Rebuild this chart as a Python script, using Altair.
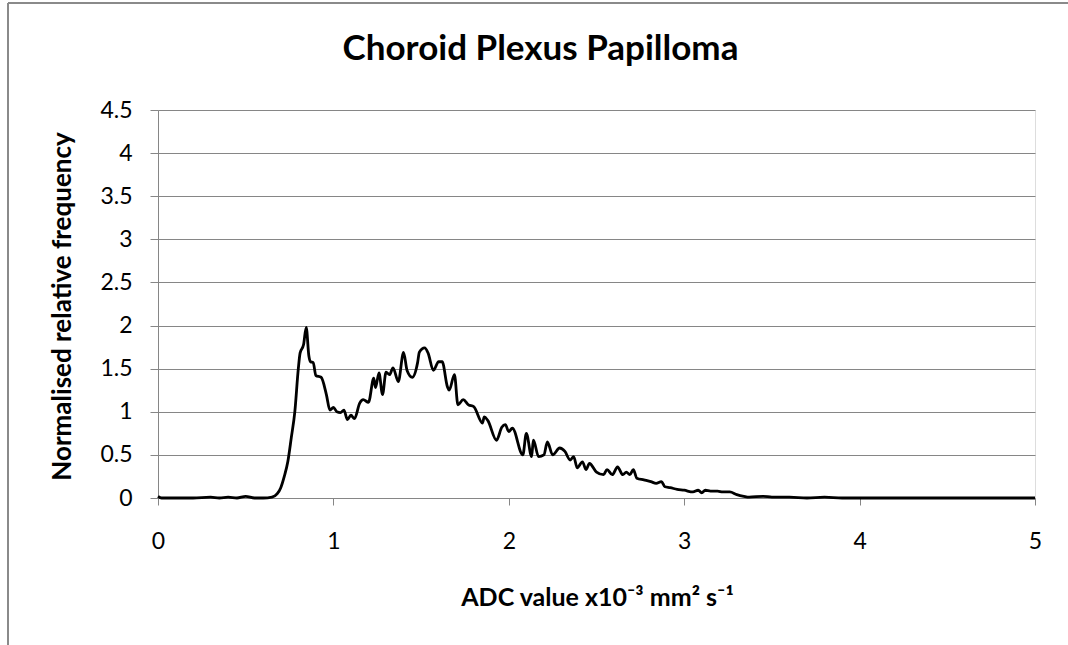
import altair as alt
import pandas as pd

adc = [0.0, 0.02, 0.1, 0.2, 0.3, 0.35, 0.4, 0.45, 0.5, 0.55, 0.6, 0.65, 0.68, 0.7, 0.72, 0.74, 0.76, 0.78,
       0.8, 0.81, 0.83, 0.845, 0.86, 0.87, 0.885, 0.9, 0.93, 0.96, 0.98, 1.0, 1.02, 1.04, 1.06, 1.08, 1.1,
       1.12, 1.15, 1.17, 1.2, 1.23, 1.24, 1.26, 1.28, 1.3, 1.32, 1.34, 1.37, 1.4, 1.42, 1.45, 1.48, 1.49,
       1.52, 1.54, 1.57, 1.6, 1.62, 1.65, 1.66, 1.69, 1.71, 1.74, 1.77, 1.8, 1.85, 1.86, 1.88, 1.93, 1.96,
       1.98, 2.0, 2.02, 2.08, 2.1, 2.13, 2.14, 2.17, 2.2, 2.22, 2.25, 2.29, 2.32, 2.35, 2.37, 2.39, 2.42,
       2.44, 2.46, 2.5, 2.54, 2.56, 2.59, 2.62, 2.65, 2.67, 2.69, 2.71, 2.73, 2.77, 2.81, 2.84, 2.87, 2.89,
       2.92, 2.96, 3.0, 3.05, 3.08, 3.1, 3.12, 3.15, 3.19, 3.22, 3.26, 3.3, 3.34, 3.37, 3.45, 3.5, 3.6, 3.7,
       3.8, 3.9, 4.0, 5.0]
freq = [0.02, 0.0, 0.0, 0.0, 0.01, 0.0, 0.01, 0.0, 0.02, 0.0, 0.0, 0.01, 0.05, 0.12, 0.25, 0.42, 0.7, 1.0,
        1.5, 1.68, 1.78, 1.98, 1.65, 1.58, 1.57, 1.42, 1.4, 1.2, 1.02, 1.05, 1.0, 0.99, 1.02, 0.91, 0.96,
        0.92, 1.1, 1.14, 1.11, 1.39, 1.28, 1.45, 1.2, 1.46, 1.43, 1.51, 1.35, 1.69, 1.48, 1.4, 1.57, 1.69,
        1.74, 1.68, 1.48, 1.58, 1.58, 1.29, 1.25, 1.43, 1.08, 1.14, 1.08, 1.06, 0.87, 0.94, 0.9, 0.67, 0.82,
        0.85, 0.77, 0.81, 0.5, 0.75, 0.48, 0.67, 0.48, 0.5, 0.65, 0.5, 0.58, 0.54, 0.44, 0.48, 0.35, 0.42,
        0.33, 0.4, 0.3, 0.27, 0.33, 0.27, 0.36, 0.27, 0.3, 0.27, 0.33, 0.23, 0.21, 0.19, 0.17, 0.19, 0.13,
        0.12, 0.1, 0.09, 0.07, 0.09, 0.06, 0.09, 0.08, 0.08, 0.07, 0.07, 0.04, 0.02, 0.01, 0.02, 0.01, 0.01, 0.0,
        0.01, 0.0, 0.0, 0.0]

y_ticks = [0, 0.5, 1, 1.5, 2, 2.5, 3, 3.5, 4, 4.5]
x_ticks = [0, 1, 2, 3, 4, 5]

df = pd.DataFrame({"adc": adc, "freq": freq})
FONT = "Lato"
GRID = "#868686"

line = alt.Chart(df).mark_line(color="black", strokeWidth=2.8, interpolate="monotone").encode(
    x=alt.X("adc:Q", scale=alt.Scale(domain=[0, 5], nice=False),
            axis=alt.Axis(values=x_ticks, format="d", grid=False, tickSize=7, tickColor=GRID,
                          domainColor=GRID, labelPadding=25, labelFontSize=23, labelFont=FONT,
                          labelColor="black", labelFlush=False, title="ADC value x10⁻³ mm² s⁻¹",
                          titleFont=FONT, titleFontSize=25, titleFontWeight="bold", titleColor="black",
                          titleX=439, titleY=99, titleBaseline="middle", titleAlign="center")),
    y=alt.Y("freq:Q", scale=alt.Scale(domain=[0, 4.5], nice=False),
            axis=alt.Axis(values=y_ticks, format="~g", grid=True, gridColor=GRID, gridWidth=1,
                          tickSize=8, tickColor=GRID, domainColor=GRID, labelPadding=18,
                          labelFontSize=23, labelFont=FONT, labelColor="black", labelFlush=False,
                          title="Normalised relative frequency", titleFont=FONT, titleFontSize=26,
                          titleFontWeight="bold", titleColor="black", titleX=-96, titleY=196,
                          titleAngle=270, titleBaseline="middle", titleAlign="center")),
)

frame_df = pd.DataFrame({"a": [0]})
left_border = alt.Chart(frame_df).mark_rule(color="#8a8a8a", strokeWidth=2).encode(
    x=alt.value(-150), y=alt.value(-107), y2=alt.value(540))
top_border = alt.Chart(frame_df).mark_rule(color="#8a8a8a", strokeWidth=2).encode(
    x=alt.value(-150), x2=alt.value(920), y=alt.value(-107))

chart = alt.layer(left_border, top_border, line).properties(
    width=877, height=388,
    title=alt.TitleParams("Choroid Plexus Papilloma", font=FONT, fontSize=35, fontWeight="bold",
                          color="black", anchor="middle", dx=-56, dy=93, offset=0, frame="group",
                          baseline="alphabetic"),
    autosize=alt.AutoSizeParams(type="none"),
    padding={"left": 158, "top": 110, "right": 33, "bottom": 147},
).configure_view(stroke=None).configure(background="white")

chart.save("out.html", embed_options={"renderer": "svg", "actions": False})
